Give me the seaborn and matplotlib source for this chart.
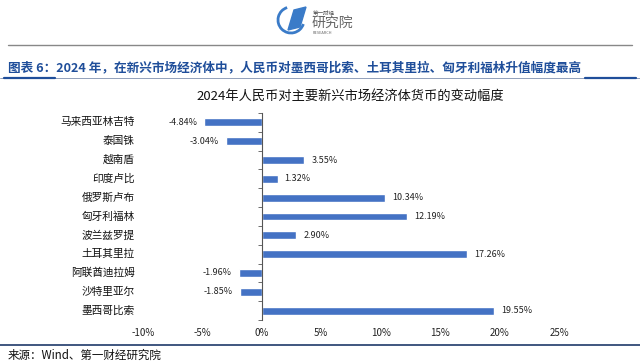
import matplotlib.pyplot as plt
import matplotlib.patches as mpatches
import matplotlib.transforms as mtransforms
import numpy as np
import pandas as pd
import seaborn as sns

CURRENCIES = ["马来西亚林吉特", "泰国铢", "越南盾", "印度卢比", "俄罗斯卢布", "匈牙利福林",
              "波兰兹罗提", "土耳其里拉", "阿联酋迪拉姆", "沙特里亚尔", "墨西哥比索"]
CHANGE_PCT = [-4.84, -3.04, 3.55, 1.32, 10.34, 12.19, 2.90, 17.26, -1.96, -1.85, 19.55]
XTICKS = [-10, -5, 0, 5, 10, 15, 20, 25]

BAR_COLOR = "#4472C4"
HEAD_BLUE = "#1F4E9A"

sns.set_theme(style="white")
plt.rcParams["font.family"] = ["Noto Sans CJK SC", "DejaVu Sans"]
plt.rcParams["axes.unicode_minus"] = False

df = pd.DataFrame({"currency": CURRENCIES, "change": CHANGE_PCT})

fig = plt.figure(figsize=(6.4, 3.63), dpi=100)
ax = fig.add_axes([143 / 640, 1 - 320 / 363, 416 / 640, 207 / 363])

sns.barplot(data=df, x="change", y="currency", orient="h", color=BAR_COLOR,
            width=0.42, saturation=1, ax=ax)

ax.set_xlim(-10, 25)
ax.set_ylim(len(CURRENCIES) - 0.5, -0.5)
ax.set_xticks(XTICKS)
ax.set_xticklabels([f"{t}%" for t in XTICKS], fontsize=7, color="#222222")
ax.tick_params(axis="x", length=0, pad=6)
ax.set_xlabel("")
ax.set_ylabel("")

# y axis sits at zero with ticks between categories
for side in ["top", "right", "bottom"]:
    ax.spines[side].set_visible(False)
ax.spines["left"].set_position(("data", 0))
ax.spines["left"].set_color("#555555")
ax.spines["left"].set_linewidth(0.8)
ax.set_yticks(np.arange(-0.5, len(CURRENCIES), 1.0))
ax.set_yticklabels([])
ax.tick_params(axis="y", length=3, width=0.6, color="#555555", direction="out", left=True)

lab_trans = mtransforms.blended_transform_factory(ax.transAxes, ax.transData)
for i, name in enumerate(CURRENCIES):
    ax.text(-0.02, i, name, transform=lab_trans, ha="right", va="center",
            fontsize=7.7, color="#111111")

for i, v in enumerate(CHANGE_PCT):
    off = 0.6 if v > 0 else -0.6
    ax.text(v + off, i, f"{v:.2f}%", ha="left" if v > 0 else "right", va="center",
            fontsize=6.5, color="#222222")

fig.text(350 / 640, 1 - 96 / 363, "2024年人民币对主要新兴市场经济体货币的变动幅度",
         ha="center", va="center", fontsize=9.5, color="#111111")

# header
fig.text(8 / 640, 1 - 68 / 363,
         "图表 6：2024 年，在新兴市场经济体中，人民币对墨西哥比索、土耳其里拉、匈牙利福林升值幅度最高",
         ha="left", va="center", fontsize=9.1, fontweight="bold", color=HEAD_BLUE)
fig.add_artist(plt.Line2D([8 / 640, 632 / 640], [1 - 45 / 363] * 2, color="#888888", lw=1))
fig.add_artist(plt.Line2D([0, 1], [1 - 78 / 363] * 2, color="#8090B0", lw=0.6))
fig.add_artist(plt.Line2D([4 / 640, 55 / 640], [1 - 78 / 363] * 2, color=HEAD_BLUE, lw=1.6))
fig.add_artist(plt.Line2D([585 / 640, 636 / 640], [1 - 78 / 363] * 2, color=HEAD_BLUE, lw=1.6))

# logo
fig.add_artist(mpatches.Arc((291 / 640, 1 - 20 / 363), 26 / 640, 26 / 363, theta1=100, theta2=330,
                            color="#3A7BC8", lw=2))
fig.add_artist(mpatches.Polygon([[288 / 640, 1 - 30 / 363], [294 / 640, 1 - 10 / 363],
                                 [306 / 640, 1 - 7 / 363], [300 / 640, 1 - 27 / 363]],
                                closed=True, color="#3A7BC8"))
fig.text(313 / 640, 1 - 12 / 363, "第一财经", fontsize=4, color="#555555", va="center")
fig.text(312 / 640, 1 - 23 / 363, "研究院", fontsize=10, color="#666666", va="center")
fig.text(313 / 640, 1 - 33 / 363, "RESEARCH", fontsize=2.8, color="#666666", va="center")

# footer
fig.add_artist(plt.Line2D([0, 1], [1 - 345 / 363] * 2, color="#1F3A6A", lw=1.2))
fig.text(8 / 640, 1 - 355 / 363, "来源：Wind、第一财经研究院", ha="left", va="center",
         fontsize=8.3, color="#111111")

fig.savefig("out.png", dpi=100)
